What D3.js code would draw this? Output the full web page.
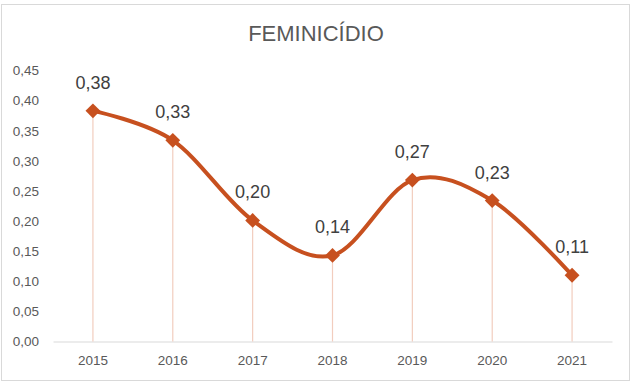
<!DOCTYPE html>
<html>
<head>
<script src="https://d3js.org/d3.v7.min.js"></script>
<style>
  body { margin: 0; background: #fff; }
  svg text { font-family: 'Liberation Sans', Arial, sans-serif; }
</style>
</head>
<body>
<div id="chart"></div>
<script>
// Data
const years = ["2015", "2016", "2017", "2018", "2019", "2020", "2021"];
const values = [0.383, 0.334, 0.201, 0.143, 0.268, 0.234, 0.110];
const yTicks = [0, 0.05, 0.10, 0.15, 0.20, 0.25, 0.30, 0.35, 0.40, 0.45];
const title = "FEMINICÍDIO";

const width = 633, height = 385;
const margin = { top: 70.5, right: 21, bottom: 43.5, left: 53 };
const lineColor = "#C7501F";
const fmt = v => d3.format(".2f")(v).replace(".", ",");

const svg = d3.select("#chart").append("svg")
    .attr("width", width)
    .attr("height", height);

// outer frame
svg.append("rect")
    .attr("x", 1.5).attr("y", 4.5)
    .attr("width", 628).attr("height", 376)
    .attr("fill", "#fff")
    .attr("stroke", "#D9D9D9");

const x = d3.scaleBand()
    .domain(years)
    .range([margin.left, width - margin.right]);

const y = d3.scaleLinear()
    .domain([0, 0.45])
    .range([height - margin.bottom, margin.top]);

// title
svg.append("text")
    .attr("x", 316).attr("y", 41)
    .attr("text-anchor", "middle")
    .attr("font-size", 22)
    .attr("fill", "#595959")
    .text(title);

// y axis labels (no line, no ticks)
const yAxis = svg.append("g")
    .attr("transform", `translate(${margin.left},0)`)
    .call(d3.axisLeft(y).tickValues(yTicks).tickFormat(fmt).tickSize(0).tickPadding(14));
yAxis.select(".domain").remove();
yAxis.selectAll("text")
    .attr("font-size", 13.5)
    .attr("fill", "#595959")
    .style("font-family", "'Liberation Sans', Arial, sans-serif");

// x axis
const xAxis = svg.append("g")
    .attr("transform", `translate(0,${y(0)})`)
    .call(d3.axisBottom(x).tickSize(0).tickPadding(14));
xAxis.select(".domain").attr("stroke", "#D9D9D9").attr("stroke-width", 1.2);
xAxis.selectAll("text")
    .attr("font-size", 13.5)
    .attr("fill", "#595959")
    .style("font-family", "'Liberation Sans', Arial, sans-serif");

const pts = years.map((yr, i) => ({ yr, v: values[i] }));
const cx = d => x(d.yr) + x.bandwidth() / 2;

// drop lines
svg.append("g").selectAll("line")
    .data(pts)
    .join("line")
    .attr("x1", cx).attr("x2", cx)
    .attr("y1", d => y(d.v)).attr("y2", y(0))
    .attr("stroke", "#F2CDBE")
    .attr("stroke-width", 1.2);

// smoothed line
const line = d3.line()
    .x(cx)
    .y(d => y(d.v))
    .curve(d3.curveCardinal.tension(0));

svg.append("path")
    .datum(pts)
    .attr("d", line)
    .attr("fill", "none")
    .attr("stroke", lineColor)
    .attr("stroke-width", 4)
    .attr("stroke-linecap", "round");

// diamond markers
svg.append("g").selectAll("path")
    .data(pts)
    .join("path")
    .attr("d", d3.symbol(d3.symbolSquare, 110))
    .attr("transform", d => `translate(${cx(d)},${y(d.v)}) rotate(45)`)
    .attr("fill", lineColor);

// data labels
svg.append("g").selectAll("text")
    .data(pts)
    .join("text")
    .attr("x", cx)
    .attr("y", d => y(d.v) - 22)
    .attr("text-anchor", "middle")
    .attr("font-size", 18)
    .attr("fill", "#404040")
    .text(d => fmt(d.v));
</script>
</body>
</html>
